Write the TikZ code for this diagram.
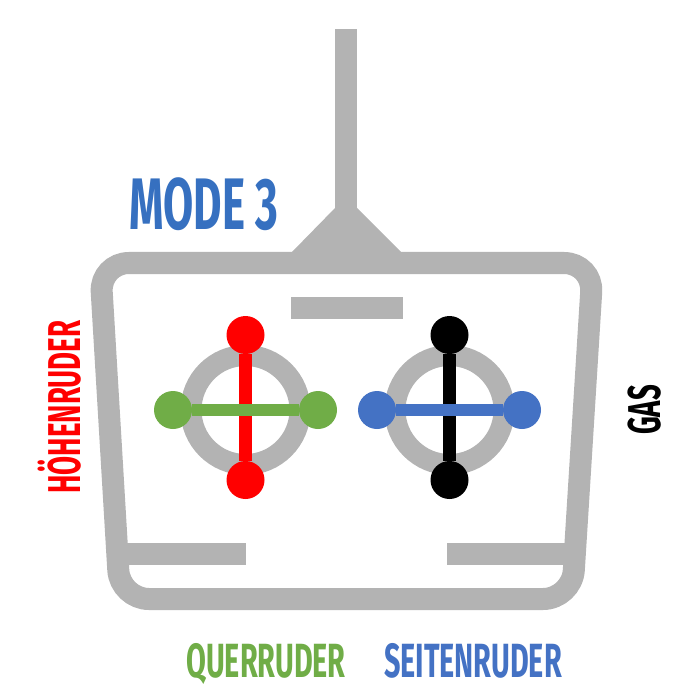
\documentclass[tikz,border=0pt]{standalone}
\usepackage{fontspec}
\usepackage{xcolor}
\setmainfont{Fira Sans}[FakeStretch=0.6]
\definecolor{rcgray}{HTML}{B3B3B3}
\definecolor{rcred}{HTML}{FF0000}
\definecolor{rcgreen}{HTML}{70AD47}
\definecolor{rcblue}{HTML}{4472C4}
\definecolor{modeblue}{HTML}{3670C0}

\begin{document}
\begin{tikzpicture}[
    x=1pt, y=-1pt,
    body/.style={draw=rcgray, line width=22pt, rounded corners=29pt},
    bar/.style={draw=rcgray, line width=22pt},
    ring/.style={draw=rcgray, line width=21pt},
    knob/.style={circle, minimum size=38pt, inner sep=0pt},
    stick/.style={line width=12.5pt},
    lettering/.style={inner sep=0pt, anchor=base, font=\bfseries\fontsize{#1}{#1}\selectfont}
]
\useasboundingbox (0,0) rectangle (700,700);

% housing
\fill[rcgray] (335,29) rectangle (357,208);
\fill[rcgray] (291,253) -- (336,207) -- (356,207) -- (402,253) -- cycle;
\draw[body] (346,263) -- (593,263) -- (572,599) -- (120,599) -- (100,263) -- cycle;
\fill[rcgray] (291,297) rectangle (403,319);
\draw[bar] (117,554) -- (246,554);
\draw[bar] (447,554) -- (575,554);

% sticks
\foreach \cx/\vcol/\hcol/\side in {245.5/rcred/rcgreen/l, 449.5/black/rcblue/r} {
    \draw[ring] (\cx,410) circle[radius=54.5];
    \node[knob, fill=\vcol] (\side-top) at (\cx,335) {};
    \node[knob, fill=\vcol] (\side-bot) at (\cx,480) {};
    \node[knob, fill=\hcol] (\side-lft) at (\cx-72.5,410) {};
    \node[knob, fill=\hcol] (\side-rgt) at (\cx+72.5,410) {};
    \draw[stick, \vcol] (\side-top) -- (\side-bot);
    \draw[stick, \hcol] (\side-lft) -- (\side-rgt);
}

% labels
\node[lettering=73, text=modeblue] (mode) at (204,230) {MODE 3};
\node[lettering=46, text=rcred, rotate=90] (elev) at (80,407) {HÖHENRUDER};
\node[lettering=46, text=black, rotate=90] (gas) at (660,410) {GAS};
\node[lettering=48, text=rcgreen] (ail) at (266,677) {QUERRUDER};
\node[lettering=48, text=rcblue] (rud) at (473,677) {SEITENRUDER};
\end{tikzpicture}
\end{document}
